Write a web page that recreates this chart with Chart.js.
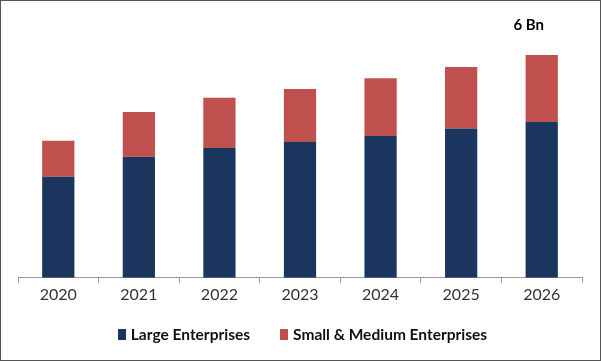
<!DOCTYPE html>
<html>
<head>
<meta charset="utf-8">
<script src="https://cdn.jsdelivr.net/npm/chart.js@4"></script>
<style>
  html, body { margin: 0; padding: 0; background: #fff; }
  #wrap { position: relative; width: 601px; height: 361px; overflow: hidden; }
  #frame { position: absolute; left: 0; top: 0; width: 601px; height: 361px; box-sizing: border-box; border: 1px solid #555; pointer-events: none; }
  #legend { position: absolute; left: 4px; right: 0; top: 325px; display: flex; justify-content: center; gap: 30px;
            font: bold 15.5px Lato, "DejaVu Sans", sans-serif; color: #111; }
  #legend .item { display: flex; align-items: center; gap: 5px; }
  #legend .box { width: 8px; height: 11px; display: inline-block; }
</style>
</head>
<body>
<div id="wrap">
  <canvas id="chart" width="601" height="361"></canvas>
  <div id="legend"></div>
  <div id="frame"></div>
</div>
<script>
const years = ['2020', '2021', '2022', '2023', '2024', '2025', '2026'];
const largeEnterprises = [2.72, 3.26, 3.50, 3.66, 3.82, 4.02, 4.20];
const smallMedium = [0.97, 1.21, 1.35, 1.43, 1.56, 1.66, 1.80];
const lastLabel = '6 Bn';

const FONT = 'Lato, "DejaVu Sans", sans-serif';

const endLabel = {
  id: 'endLabel',
  afterDatasetsDraw(chart) {
    const { ctx, scales } = chart;
    const i = years.length - 1;
    const total = largeEnterprises[i] + smallMedium[i];
    const x = scales.x.getPixelForValue(i) - 13;
    const y = scales.y.getPixelForValue(total) - 30;
    ctx.save();
    ctx.font = 'bold 15px ' + FONT;
    ctx.fillStyle = '#000';
    ctx.textAlign = 'center';
    ctx.textBaseline = 'middle';
    ctx.fillText(lastLabel, x, y);
    ctx.restore();
  }
};

const chart = new Chart(document.getElementById('chart'), {
  type: 'bar',
  data: {
    labels: years,
    datasets: [{
      label: 'Large Enterprises',
      data: largeEnterprises,
      backgroundColor: '#1b365e',
      barPercentage: 0.4,
      categoryPercentage: 1
    }, {
      label: 'Small & Medium Enterprises',
      data: smallMedium,
      backgroundColor: '#c0504d',
      barPercentage: 0.4,
      categoryPercentage: 1
    }]
  },
  options: {
    responsive: false,
    animation: false,
    layout: { padding: { top: 18, left: 18, right: 19, bottom: 55 } },
    plugins: {
      tooltip: { enabled: false },
      legend: { display: false }
    },
    scales: {
      x: {
        stacked: true,
        border: { display: true, color: '#999', width: 1 },
        grid: { drawOnChartArea: false, drawTicks: true, tickLength: 5, color: '#999' },
        ticks: { color: '#333', padding: 2, font: { family: FONT, size: 16 } }
      },
      y: {
        stacked: true,
        display: false,
        min: 0,
        max: 7
      }
    }
  },
  plugins: [endLabel]
});

// simple HTML legend built from the datasets
const legend = document.getElementById('legend');
chart.data.datasets.forEach(ds => {
  const item = document.createElement('span');
  item.className = 'item';
  const box = document.createElement('span');
  box.className = 'box';
  box.style.background = ds.backgroundColor;
  const text = document.createElement('span');
  text.textContent = ds.label;
  item.appendChild(box);
  item.appendChild(text);
  legend.appendChild(item);
});
</script>
</body>
</html>
